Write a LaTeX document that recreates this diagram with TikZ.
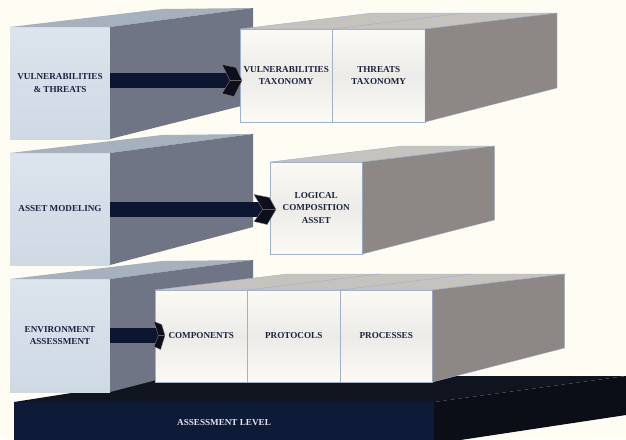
\documentclass[tikz,border=0pt]{standalone}
\usepackage{fontspec}
\setmainfont{Liberation Serif}
\usetikzlibrary{calc}
\definecolor{bg}{HTML}{FFFDF3}
\definecolor{lfa}{HTML}{DCE4ED}
\definecolor{lfb}{HTML}{CFD9E4}
\definecolor{ltopc}{HTML}{A7B0BD}
\definecolor{lsidec}{HTML}{6F7585}
\definecolor{rfa}{HTML}{FCFAF4}
\definecolor{rfb}{HTML}{EDEBE8}
\definecolor{rtopc}{HTML}{C6C2BE}
\definecolor{rsidec}{HTML}{8D8885}
\definecolor{redge}{HTML}{9FB1CC}
\definecolor{txt}{HTML}{1B2240}
\definecolor{shaftcol}{HTML}{0E1530}
\definecolor{headcol}{HTML}{0D0F1C}
\definecolor{headedge}{HTML}{8C8078}
\definecolor{basefrontc}{HTML}{0D1A38}
\definecolor{basetopc}{HTML}{10141F}
\definecolor{basesidec}{HTML}{0B0E17}
\definecolor{basetxt}{HTML}{E4E6EE}
\tikzset{
  lbl/.style={font=\bfseries\fontsize{7.8}{10.6}\selectfont, text=txt, align=center},
  lfront/.style={lbl, anchor=north west, inner sep=0pt, outer sep=0pt, minimum width=3cm, top color=lfa, bottom color=lfb},
  ltop/.style={fill=ltopc},
  lside/.style={fill=lsidec},
  rfront/.style={lbl, anchor=north west, inner sep=0pt, outer sep=0pt, minimum width=2.775cm, top color=rfa, bottom color=rfa, middle color=rfb, draw=redge, line width=0.4pt},
  rtop/.style={fill=rtopc, draw=redge, line width=0.3pt},
  rside/.style={fill=rsidec, draw=redge, line width=0.3pt},
  divider/.style={draw=redge, line width=0.4pt},
  basefront/.style={anchor=north west, inner sep=0pt, outer sep=0pt, minimum width=12.6cm, minimum height=1.26cm, fill=basefrontc, text=basetxt, font=\bfseries\fontsize{7.8}{10.6}\selectfont},
  basetop/.style={fill=basetopc},
  baseside/.style={fill=basesidec},
  shaftc/.style={fill=shaftcol},
  headst/.style={fill=headcol, draw=headedge, line width=0.3pt, line join=round},
  facet/.style={draw=headedge!70!headcol, line width=0.3pt}
}
\newcommand\flatarrow[6]{%
  \coordinate (as) at ($(#1.east)+(0,#3)$);
  \coordinate (atx) at ($(#2.west)+(#6,0)$);
  \coordinate (at) at (atx |- as);
  \fill[shaftc] ($(as)+(0,-7.5)$) rectangle ($(at)+(-0.6*#4,7.5)$);
  \filldraw[headst] ($(at)+(-#4,-#5)$) -- ($(at)+(-0.3*#4,-#5+3)$) -- (at) -- ($(at)+(-0.4*#4,#5)$) -- ($(at)+(-#4,#5-3)$) -- ($(at)+(-0.6*#4,0)$) -- cycle;
  \draw[facet] ($(at)+(-0.6*#4,0)$) -- (at);
}
\begin{document}
\begin{tikzpicture}[x=0.03cm,y=-0.03cm]
\useasboundingbox (0,0) rectangle (626,439);
\fill[bg] (0,0) rectangle (626,439);
\clip (0,0) rectangle (626,439);

% base platform
\node[basefront] (base) at (14,402) {ASSESSMENT LEVEL};
\fill[basetop] (base.north west) -- (base.north east) -- ++(192,-26) -- (180,376) -- cycle;
\fill[baseside] (base.north east) -- ++(192,-26) -- ++(0,39) -- ($(base.north east)+(33,37)$) -- (base.south east) -- cycle;

% left blocks
\node[lfront, minimum height=3.39cm] (lf3) at (10,279) {ENVIRONMENT\\ASSESSMENT};
\fill[ltop] (lf3.north west) -- (lf3.north east) -- ++(143,-19) -- ($(lf3.north west)+(152,-18)$) -- cycle;
\fill[lside] (lf3.north east) -- ++(143,-19) -- ++(0,95) -- (lf3.south east) -- cycle;

\node[lfront, minimum height=3.36cm] (lf2) at (10,153) {ASSET MODELING};
\fill[ltop] (lf2.north west) -- (lf2.north east) -- ++(143,-19) -- ($(lf2.north west)+(152,-18)$) -- cycle;
\fill[lside] (lf2.north east) -- ++(143,-19) -- ++(0,93) -- (lf2.south east) -- cycle;

\node[lfront, minimum height=3.36cm] (lf1) at (10,27) {VULNERABILITIES\\\& THREATS};
\fill[ltop] (lf1.north west) -- (lf1.north east) -- ++(143,-19) -- ($(lf1.north west)+(152,-18)$) -- cycle;
\fill[lside] (lf1.north east) -- ++(143,-19) -- ++(0,95) -- (lf1.south east) -- cycle;

% row 3 boxes
\node[rfront, minimum height=2.76cm] (comp) at (155,290) {COMPONENTS};
\node[rfront, minimum height=2.76cm] (prot) at (comp.north east) {PROTOCOLS};
\node[rfront, minimum height=2.76cm] (proc) at (prot.north east) {PROCESSES};
\filldraw[rtop] (comp.north west) -- (proc.north east) -- ++(132,-16) -- ($(comp.north west)+(132,-16)$) -- cycle;
\draw[divider] (comp.north east) -- ++(132,-16);
\draw[divider] (prot.north east) -- ++(132,-16);
\filldraw[rside] (proc.north east) -- ++(132,-16) -- ++(0,74) -- (proc.south east) -- cycle;

% row 2 box
\node[rfront, minimum height=2.76cm] (lca) at (270,162) {LOGICAL\\COMPOSITION\\ASSET};
\filldraw[rtop] (lca.north west) -- (lca.north east) -- ++(132,-16) -- ($(lca.north west)+(132,-16)$) -- cycle;
\filldraw[rside] (lca.north east) -- ++(132,-16) -- ++(0,74) -- (lca.south east) -- cycle;

% row 1 boxes
\node[rfront, minimum height=2.79cm] (vtax) at (240,29) {VULNERABILITIES\\TAXONOMY};
\node[rfront, minimum height=2.79cm] (ttax) at (vtax.north east) {THREATS\\TAXONOMY};
\filldraw[rtop] (vtax.north west) -- (ttax.north east) -- ++(132,-16) -- ($(vtax.north west)+(132,-16)$) -- cycle;
\draw[divider] (vtax.north east) -- ++(132,-16);
\filldraw[rside] (ttax.north east) -- ++(132,-16) -- ++(0,75) -- (ttax.south east) -- cycle;

% arrows
\flatarrow{lf1}{vtax}{-2.5}{20}{16}{2}
\flatarrow{lf2}{lca}{0.5}{22}{15}{6}
\flatarrow{lf3}{comp}{0}{11}{14}{10}
\end{tikzpicture}
\end{document}
